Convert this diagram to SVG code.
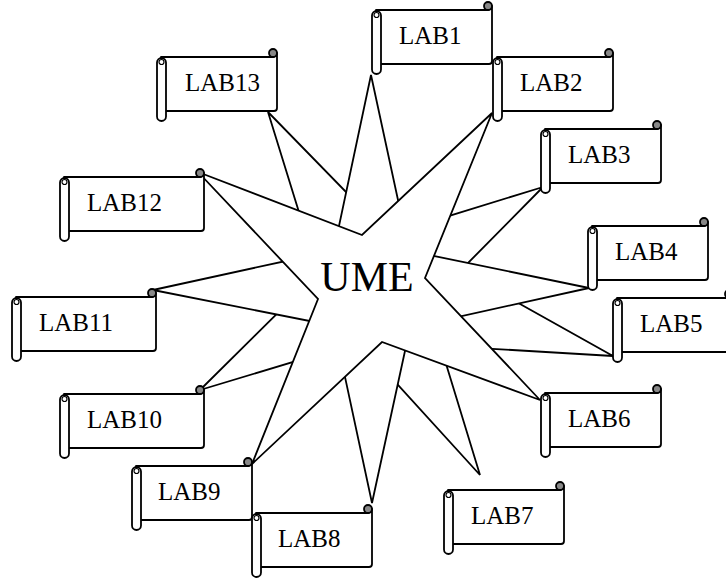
<svg xmlns="http://www.w3.org/2000/svg" width="726" height="580" viewBox="0 0 726 580">
<style>
.w{fill:#fff;stroke:#000;stroke-width:1.8;stroke-linejoin:miter}
.sh{fill:#fff;stroke:#000;stroke-width:1.8;stroke-linejoin:round}
.rl{fill:#fff;stroke:#000;stroke-width:1.8}
.cu{fill:#888;stroke:#000;stroke-width:1.8}
.ci{fill:none;stroke:#000;stroke-width:1.2}
.t{font-family:"Liberation Serif","Times New Roman",serif;font-size:25px;fill:#000}
.u{font-family:"Liberation Serif","Times New Roman",serif;font-size:42px;fill:#000;text-anchor:middle}
</style>
<defs>
<g id="s120">
<path class="sh" d="M4,0 H116 A4,4 0 0 0 120,-4 V51 Q120,54 117,54 H4 Z"/>
<circle class="cu" cx="116" cy="-4" r="4"/>
<rect class="rl" x="0" y="1" width="9" height="63" rx="4.5"/>
<circle class="ci" cx="4.5" cy="5" r="2.5"/>
</g>
<g id="s144">
<path class="sh" d="M4,0 H140 A4,4 0 0 0 144,-4 V51 Q144,54 141,54 H4 Z"/>
<circle class="cu" cx="140" cy="-4" r="4"/>
<rect class="rl" x="0" y="1" width="9" height="63" rx="4.5"/>
<circle class="ci" cx="4.5" cy="5" r="2.5"/>
</g>
</defs>
<rect width="726" height="580" fill="#fff"/>
<g id="connectors">
<polygon class="w" points="268,112 302.5,223.5 371,289 389,236"/>
<polygon class="w" points="371,75 335.8,241.1 371,289 400.7,212.5"/>
<polygon class="w" points="200,390 312,279 371,289 302.3,359.2"/>
<polygon class="w" points="153,290 295,259 371,289 324.6,324"/>
<polygon class="w" points="480,475 362,345.4 371,289 443.7,356.2"/>
<polygon class="w" points="372,503 342.3,364.4 371,289 408.3,335.8"/>
<polygon class="w" points="613,356 470,276 371,289 483.2,348.3"/>
<polygon class="w" points="543,187 442.9,217.8 371,289 430.5,301"/>
<polygon class="w" points="589,288 418.5,252.8 371,289 449.3,318.8"/>
</g>
<g id="ume">
<polygon class="w" points="198,172 362,235 492,113 425,278 540,400 382,342 252,464 318,299"/>
<text class="u" x="367" y="291">UME</text>
</g>
<g id="lab1"><use href="#s120" x="372" y="10"/><text class="t" x="399" y="44">LAB1</text></g>
<g id="lab2"><use href="#s120" x="493" y="57"/><text class="t" x="520" y="91">LAB2</text></g>
<g id="lab3"><use href="#s120" x="541" y="129"/><text class="t" x="568" y="163">LAB3</text></g>
<g id="lab4"><use href="#s120" x="588" y="226"/><text class="t" x="615" y="260">LAB4</text></g>
<g id="lab5"><use href="#s120" x="613" y="298"/><text class="t" x="640" y="332">LAB5</text></g>
<g id="lab6"><use href="#s120" x="541" y="393"/><text class="t" x="568" y="427">LAB6</text></g>
<g id="lab7"><use href="#s120" x="444" y="490"/><text class="t" x="471" y="524">LAB7</text></g>
<g id="lab9"><use href="#s120" x="132" y="466"/><text class="t" x="158" y="500">LAB9</text></g>
<g id="lab8"><use href="#s120" x="252" y="513"/><text class="t" x="278" y="547">LAB8</text></g>
<g id="lab10"><use href="#s144" x="60" y="394"/><text class="t" x="87" y="428">LAB10</text></g>
<g id="lab11"><use href="#s144" x="12" y="297"/><text class="t" x="39" y="331">LAB11</text></g>
<g id="lab12"><use href="#s144" x="60" y="177"/><text class="t" x="87" y="211">LAB12</text></g>
<g id="lab13"><use href="#s120" x="157" y="57"/><text class="t" x="185" y="91">LAB13</text></g>
</svg>
